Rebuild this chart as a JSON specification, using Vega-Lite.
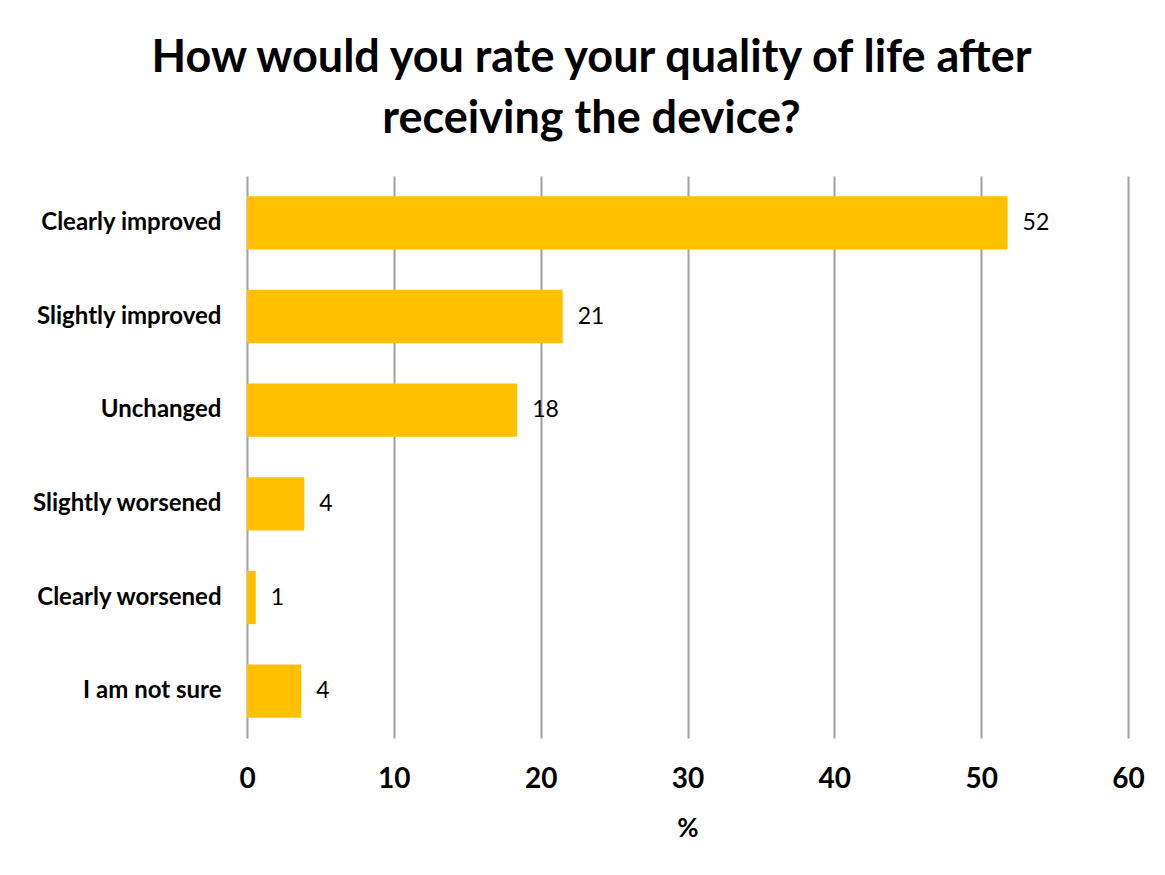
{
  "$schema": "https://vega.github.io/schema/vega-lite/v6.json",
  "width": 881,
  "height": 562,
  "autosize": {"type": "none"},
  "padding": {"left": 247, "top": 176, "right": 37, "bottom": 137},
  "background": "white",
  "title": {
    "text": ["How would you rate your quality of life after", "receiving the device?"],
    "font": "Lato",
    "fontSize": 45,
    "fontWeight": "bold",
    "color": "#000000",
    "anchor": "middle",
    "dx": -96,
    "offset": 34,
    "lineHeight": 61
  },
  "data": {
    "values": [
      {"answer": "Clearly improved", "pct": 51.8, "label": "52"},
      {"answer": "Slightly improved", "pct": 21.5, "label": "21"},
      {"answer": "Unchanged", "pct": 18.4, "label": "18"},
      {"answer": "Slightly worsened", "pct": 3.9, "label": "4"},
      {"answer": "Clearly worsened", "pct": 0.6, "label": "1"},
      {"answer": "I am not sure", "pct": 3.7, "label": "4"}
    ]
  },
  "encoding": {
    "y": {
      "field": "answer",
      "type": "nominal",
      "sort": null,
      "scale": {"paddingInner": 0.43, "paddingOuter": 0.215},
      "axis": {
        "title": null,
        "domain": false,
        "ticks": false,
        "labelFont": "Lato",
        "labelFontSize": 24,
        "labelFontWeight": "bold",
        "labelColor": "#000000",
        "labelPadding": 26,
        "labelLimit": 300
      }
    },
    "x": {
      "field": "pct",
      "type": "quantitative",
      "scale": {"domain": [0, 60], "nice": false},
      "axis": {
        "values": [0, 10, 20, 30, 40, 50, 60],
        "title": "%",
        "titleFont": "Lato",
        "titleFontSize": 26,
        "titleFontWeight": "bold",
        "titleColor": "#000000",
        "titlePadding": 22,
        "domain": false,
        "ticks": false,
        "grid": true,
        "gridColor": "#a0a0a0",
        "gridWidth": 2,
        "labelFlush": false,
        "labelFont": "Lato",
        "labelFontSize": 28,
        "labelFontWeight": "bold",
        "labelColor": "#000000",
        "labelPadding": 27
      }
    }
  },
  "layer": [
    {"mark": {"type": "bar", "color": "#FFC000"}},
    {
      "mark": {"type": "text", "align": "left", "dx": 15, "font": "Lato", "fontSize": 23, "color": "#000000"},
      "encoding": {"text": {"field": "label"}}
    }
  ],
  "config": {"view": {"stroke": null}}
}
